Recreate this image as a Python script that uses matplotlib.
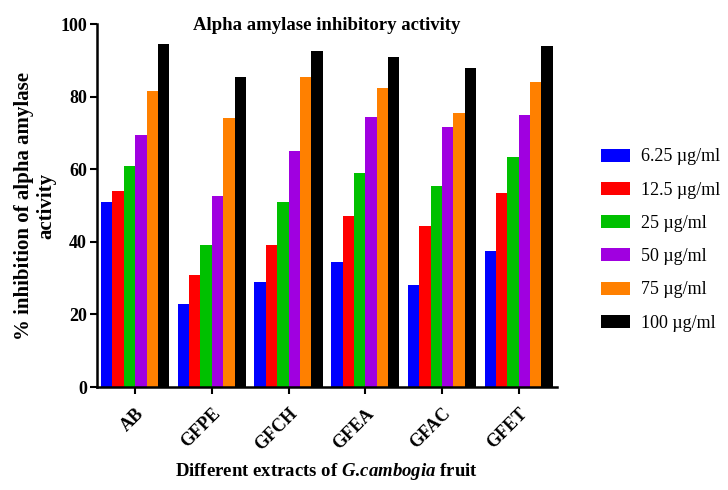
import numpy as np
import matplotlib
matplotlib.use('Agg')
import matplotlib.pyplot as plt

plt.rcParams['font.family'] = ['Liberation Serif', 'DejaVu Serif']
plt.rcParams['mathtext.fontset'] = 'custom'
plt.rcParams['mathtext.it'] = 'Liberation Serif:italic:bold'
plt.rcParams['mathtext.rm'] = 'Liberation Serif:bold'

extracts = ['AB', 'GFPE', 'GFCH', 'GFEA', 'GFAC', 'GFET']
concs = ['6.25 µg/ml', '12.5 µg/ml', '25 µg/ml', '50 µg/ml', '75 µg/ml', '100 µg/ml']

c625 = [51, 23, 29, 34.5, 28, 37.5]
c125 = [54, 31, 39, 47, 44.5, 53.5]
c25 = [61, 39, 51, 59, 55.5, 63.5]
c50 = [69.5, 52.5, 65, 74.5, 71.5, 75]
c75 = [81.5, 74, 85.5, 82.5, 75.5, 84]
c100 = [94.5, 85.5, 92.5, 91, 88, 94]

series = [c625, c125, c25, c50, c75, c100]
colors = ['#0000FF', '#FF0000', '#00C000', '#A000E0', '#FF8000', '#000000']

fig = plt.figure(figsize=(7.28, 4.9), dpi=100)
ax = fig.add_axes([0.133, 0.21, 0.632, 0.741])

x = np.arange(len(extracts))
w = 0.148
for i, (vals, col, lab) in enumerate(zip(series, colors, concs)):
    ax.bar(x + (i - 2.5) * w, vals, w, color=col, label=lab, linewidth=0)

ax.set_xlim(-0.5, 5.5)
ax.set_ylim(0, 100)
ax.set_yticks([0, 20, 40, 60, 80, 100])
ax.set_xticks(x)
ax.set_xticklabels(extracts, rotation=45, ha='right', rotation_mode='anchor',
                   fontweight='bold', fontsize=13)
for t in ax.get_yticklabels():
    t.set_fontweight('bold')
    t.set_fontsize(13)

for s in ['top', 'right']:
    ax.spines[s].set_visible(False)
for s in ['left', 'bottom']:
    ax.spines[s].set_linewidth(1.8)
ax.tick_params(axis='both', width=1.5, length=5, direction='out')
ax.tick_params(axis='x', pad=8)
ax.tick_params(axis='y', pad=2)

ax.text(0.5, 0.995, 'Alpha amylase inhibitory activity', transform=ax.transAxes,
        ha='center', va='center', fontweight='bold', fontsize=13.5)
ax.set_ylabel('% inhibition of alpha amylase\nactivity', fontweight='bold',
              fontsize=15, linespacing=1.15)
ax.yaxis.set_label_coords(-0.088, 0.5)
fig.text(0.449, 0.037, r'Different extracts of $G.\!cambogia$ fruit',
         ha='center', va='center', fontweight='bold', fontsize=13.5)

ax.legend(loc='center left', bbox_to_anchor=(1.08, 0.405), frameon=False,
          fontsize=13, handlelength=1.6, handleheight=0.72,
          labelspacing=0.9, handletextpad=0.6, borderaxespad=0)

fig.savefig('out.png', dpi=100)
